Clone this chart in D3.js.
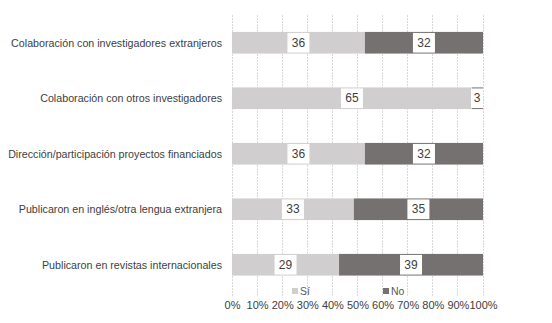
<!DOCTYPE html>
<html><head><meta charset="utf-8">
<script src="https://cdn.jsdelivr.net/npm/d3@7"></script>
<style>body{margin:0;background:#fff}svg{display:block}</style>
</head><body>
<svg id="c" width="552" height="323"></svg>
<script>
const categories = [
  "Colaboración con investigadores extranjeros",
  "Colaboración con otros investigadores",
  "Dirección/participación proyectos financiados",
  "Publicaron en inglés/otra lengua extranjera",
  "Publicaron en revistas internacionales"
];
const si = [36, 65, 36, 33, 29];
const no = [32, 3, 32, 35, 39];
const seriesNames = ["Sí", "No"];
const tickValues = [0,0.1,0.2,0.3,0.4,0.5,0.6,0.7,0.8,0.9,1];

const colors = {"Sí": "#d0cece", "No": "#767171"};
const svg = d3.select("#c");
const font = "'Liberation Sans', Arial, sans-serif";

const x = d3.scaleLinear().domain([0, 1]).range([232, 483]);
const y = d3.scaleBand().domain(categories).range([15, 292.5]).padding(0.61).paddingOuter(0.305);

// grid
svg.append("g").selectAll("line").data(tickValues).join("line")
  .attr("x1", d => x(d)).attr("x2", d => x(d))
  .attr("y1", 15).attr("y2", 296)
  .attr("stroke", "#d9d9d9").attr("stroke-width", 1).attr("stroke-dasharray", "2,1")
  .attr("shape-rendering", "crispEdges");

const rows = categories.map((c, i) => ({c, si: si[i], no: no[i], t: si[i] + no[i]}));

const g = svg.append("g");
rows.forEach(r => {
  const segs = [
    {name: "Sí", v: r.si, x0: 0, x1: r.si / r.t},
    {name: "No", v: r.no, x0: r.si / r.t, x1: 1}
  ];
  segs.forEach(s => {
    g.append("rect")
      .attr("x", x(s.x0)).attr("width", x(s.x1) - x(s.x0))
      .attr("y", y(r.c)).attr("height", y.bandwidth())
      .attr("fill", colors[s.name]);
  });
  segs.forEach(s => {
    const cx = (x(s.x0) + x(s.x1)) / 2;
    const w = String(s.v).length > 1 ? 22 : 12;
    let bx = cx - w / 2;
    if (bx + w > x(1)) bx = x(1) - w;
    g.append("rect")
      .attr("x", bx).attr("width", w)
      .attr("y", y(r.c) + 1).attr("height", y.bandwidth() - 2)
      .attr("fill", "#fff");
    g.append("text")
      .attr("x", bx + w / 2).attr("y", y(r.c) + y.bandwidth() / 2 + 4)
      .attr("text-anchor", "middle")
      .attr("font-family", font).attr("font-size", 12)
      .attr("fill", "#404040").text(s.v);
  });
});

// category labels
svg.append("g").selectAll("text").data(categories).join("text")
  .attr("x", 222).attr("y", d => y(d) + y.bandwidth() / 2 + 4)
  .attr("text-anchor", "end")
  .attr("font-family", font).attr("font-size", 10.7)
  .attr("fill", "#404040").text(d => d);

// x axis
const ax = svg.append("g").attr("transform", "translate(0,301)")
  .call(d3.axisBottom(x).tickValues(tickValues).tickFormat(d3.format(".0%")).tickSize(0).tickPadding(0));
ax.select(".domain").remove();
ax.selectAll("text").attr("font-family", font).attr("font-size", 11).attr("fill", "#404040").attr("dy", "0.71em");

// legend
const leg = svg.append("g");
const legPos = [{n: "Sí", x: 292}, {n: "No", x: 383}];
legPos.forEach(l => {
  leg.append("rect").attr("x", l.x).attr("y", 288).attr("width", 6).attr("height", 6).attr("fill", colors[l.n]);
  leg.append("text").attr("x", l.x + 8).attr("y", 295)
    .attr("font-family", font).attr("font-size", 10.5).attr("fill", "#595959").text(l.n);
});
</script>
</body></html>
